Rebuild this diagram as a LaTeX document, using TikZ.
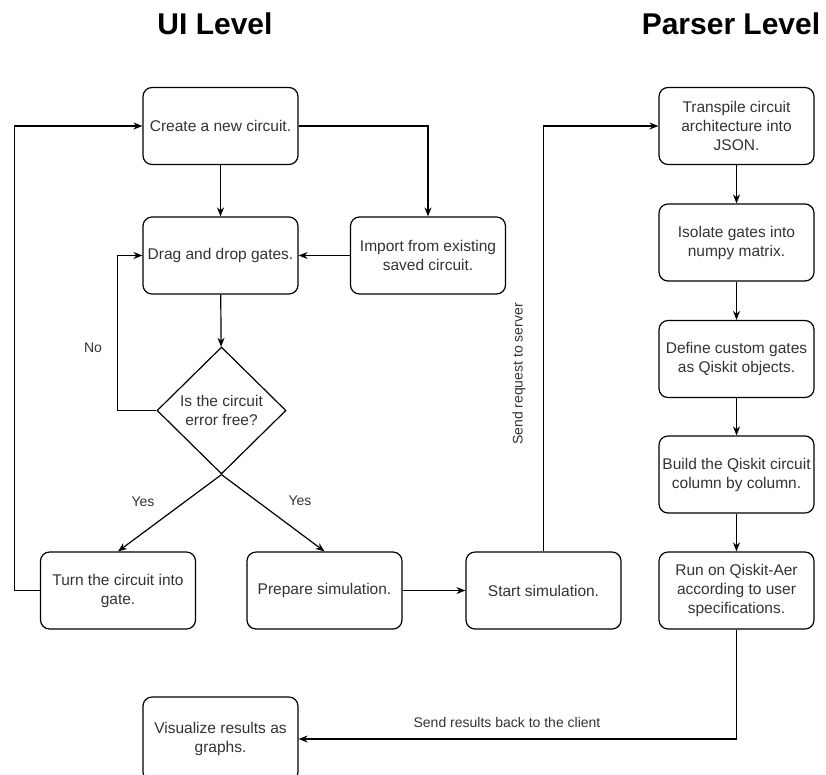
\documentclass[tikz,border=0pt]{standalone}
\usepackage{fontspec}
\setmainfont{Liberation Sans}
\usetikzlibrary{shapes.geometric,arrows.meta}
\begin{document}
\begin{tikzpicture}[>={Stealth[length=9pt,width=7pt]},x=1pt,y=1pt,line width=1.2pt,
	box/.style={draw,rounded corners=9pt,minimum width=155pt,minimum height=77pt,align=center,inner sep=2pt,text=black!80,font=\fontsize{15.5}{19}\selectfont},
	decision/.style={draw,diamond,minimum width=129pt,minimum height=127pt,inner sep=0pt,align=center,text=black!80,font=\fontsize{15.5}{19}\selectfont},
	lbl/.style={text=black!80,font=\fontsize{14}{16}\selectfont},
	title/.style={font=\fontsize{30}{34}\selectfont\bfseries}]
	\useasboundingbox (0,0) rectangle (826,-774);
	% titles
	\node[title] (uilevel) at (215,-24) {UI Level};
	\node[title] (parserlevel) at (731,-24) {Parser Level};
	% UI side
	\node[box] (create) at (220.5,-126) {Create a new circuit.};
	\node[box] (drag) at (220.5,-255.5) {Drag and drop gates.};
	\node[box] (import) at (428,-255.5) {Import from existing\\saved circuit.};
	\node[decision] (check) at (221.5,-410.5) {Is the circuit\\error free?};
	\node[box] (turn) at (118,-590.5) {Turn the circuit into\\gate.};
	\node[box] (prepare) at (324.5,-590.5) {Prepare simulation.};
	\node[box] (start) at (543.5,-590.5) {Start simulation.};
	\node[box,minimum height=84pt] (visual) at (220.5,-739) {Visualize results as\\graphs.};
	% parser side
	\node[box] (transpile) at (736.5,-126) {Transpile circuit\\architecture into\\JSON.};
	\node[box] (isolate) at (736.5,-242.5) {Isolate gates into\\numpy matrix.};
	\node[box] (define) at (736.5,-359) {Define custom gates\\as Qiskit objects.};
	\node[box] (build) at (736.5,-474.5) {Build the Qiskit circuit\\column by column.};
	\node[box] (run) at (736.5,-590.5) {Run on Qiskit-Aer\\according to user\\specifications.};
	% labels
	\node[lbl] (no) at (93,-348) {No};
	\node[lbl] (yesleft) at (143,-502) {Yes};
	\node[lbl] (yesright) at (300,-501) {Yes};
	\node[lbl,rotate=90] (request) at (519,-374) {Send request to server};
	\node[lbl] (results) at (507,-722) {Send results back to the client};
	% connectors
	\draw[->] (create.east) -| (import.north);
	\draw[->] (create) -- (drag);
	\draw[->] (import) -- (drag);
	\draw[->] (drag) -- (check);
	\draw[->] (check.west) -- ++(-39,0) |- (drag.west);
	\draw[->] (check.south) -- (turn.north);
	\draw[->] (check.south) -- (prepare.north);
	\draw[->] (turn.west) -- ++(-25.5,0) |- (create.west);
	\draw[->] (prepare) -- (start);
	\draw[->] (start.north) |- (transpile.west);
	\foreach \a/\b in {transpile/isolate,isolate/define,define/build,build/run}
		\draw[->] (\a) -- (\b);
	\draw[->] (run.south) |- (visual.east);
\end{tikzpicture}
\end{document}
